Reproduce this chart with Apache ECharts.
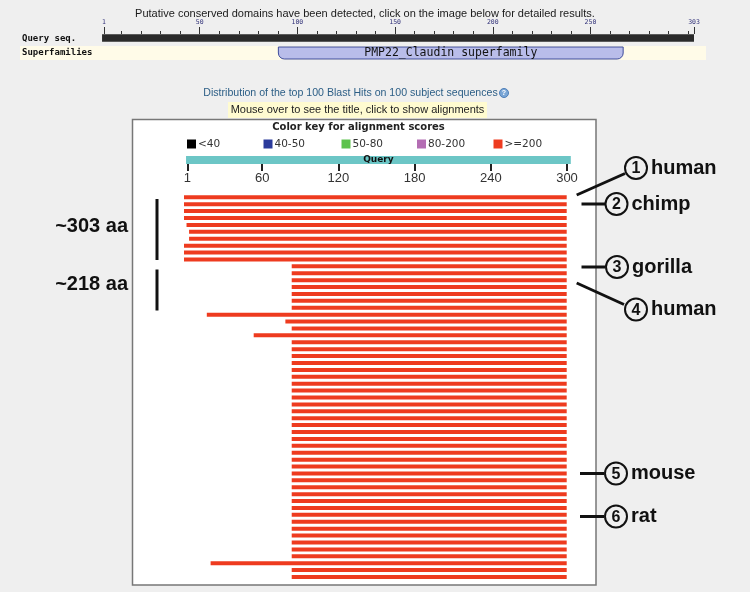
<!DOCTYPE html>
<html><head><meta charset="utf-8">
<script src="https://cdn.jsdelivr.net/npm/echarts@6/dist/echarts.min.js"></script>
<style>html,body{margin:0;padding:0;background:#efefef}#c{width:750px;height:592px}</style>
</head><body><div id="c"></div>
<script>
// ---- data ----
const queryLength = 303;
const rulerLabels = [1, 50, 100, 150, 200, 250, 303];
const rulerMinorTicks = [1, 10, 20, 30, 40, 50, 60, 70, 80, 90, 100, 110, 120, 130, 140, 150, 160, 170, 180, 190, 200, 210, 220, 230, 240, 250, 260, 270, 280, 290, 300, 303];
const domainName = 'PMP22_Claudin superfamily';
const domainStart = 90;
const domainEnd = 267;
const queryTicks = [1, 60, 120, 180, 240, 300];
const keyLabels = ['<40', '40-50', '50-80', '80-200', '>=200'];
const keyColors = ['#000000', '#2b3a9b', '#5cc24c', '#b36db3', '#ee3b1f'];
const hitStarts = [1, 1, 1, 1, 3, 5, 5, 1, 1, 1,
  86, 86, 86, 86, 86, 86, 86,
  19, 81, 86, 56,
  86, 86, 86, 86, 86, 86, 86, 86, 86, 86, 86, 86, 86, 86, 86, 86,
  86, 86, 86, 86, 86, 86, 86, 86, 86, 86, 86, 86, 86, 86, 86, 86,
  22, 86, 86];
const hitEnds = [303, 303, 303, 303, 303, 303, 303, 303, 303, 303,
  303, 303, 303, 303, 303, 303, 303,
  303, 303, 303, 303,
  303, 303, 303, 303, 303, 303, 303, 303, 303, 303, 303, 303, 303, 303, 303, 303,
  303, 303, 303, 303, 303, 303, 303, 303, 303, 303, 303, 303, 303, 303, 303, 303,
  303, 303, 303];
const hitNames = hitStarts.map((_, i) => 'Hit ' + (i + 1));
const species = ['human', 'chimp', 'gorilla', 'human', 'mouse', 'rat'];
const groupLabels = ['~303 aa', '~218 aa'];

// ---- chart ----
const chart = echarts.init(document.getElementById('c'));
const SANS = 'Liberation Sans, Arial, sans-serif';
const VERD = 'DejaVu Sans, Verdana, sans-serif';
const MONO = 'DejaVu Sans Mono, monospace';

const graphics = [];
// header
graphics.push({type:'text', x:365, y:14, z:10, style:{text:'Putative conserved domains have been detected, click on the image below for detailed results.', font:'11px '+SANS, fill:'#1a1a1a', align:'center', verticalAlign:'middle'}});
// superfamily strip
graphics.push({type:'rect', z:-1, shape:{x:20, y:46, width:686, height:14}, style:{fill:'#fffbe8'}});
graphics.push({type:'text', x:22, y:38.5, z:10, style:{text:'Query seq.', font:'bold 9px '+MONO, fill:'#111', verticalAlign:'middle'}});
graphics.push({type:'text', x:22, y:53, z:10, style:{text:'Superfamilies', font:'bold 9px '+MONO, fill:'#111', verticalAlign:'middle'}});
// title
graphics.push({type:'text', x:350.5, y:93, z:10, style:{text:'Distribution of the top 100 Blast Hits on 100 subject sequences', font:'10.6px '+SANS, fill:'#2c5e86', align:'center', verticalAlign:'middle'}});
graphics.push({type:'circle', z:10, shape:{cx:504, cy:93, r:4.5}, style:{fill:'#7aa6d6', stroke:'#4f7fb8', lineWidth:1}});
graphics.push({type:'text', x:504, y:93, z:11, style:{text:'?', font:'bold 7px '+SANS, fill:'#fff', align:'center', verticalAlign:'middle'}});
// yellow hint box
graphics.push({type:'rect', z:1, shape:{x:228, y:102, width:259, height:16}, style:{fill:'#fffbd0'}});
graphics.push({type:'text', x:357.5, y:110, z:10, style:{text:'Mouse over to see the title, click to show alignments', font:'11px '+SANS, fill:'#222', align:'center', verticalAlign:'middle'}});
// white box
graphics.push({type:'rect', z:0, shape:{x:132.5, y:119.5, width:463.5, height:465.5}, style:{fill:'#ffffff', stroke:'#777', lineWidth:1.5}});
graphics.push({type:'text', x:358.5, y:127.5, z:10, style:{text:'Color key for alignment scores', font:'bold 10px '+VERD, fill:'#222', align:'center', verticalAlign:'middle'}});
const keyX = [187, 263.5, 341.5, 417, 493.5];
keyLabels.forEach((t, i) => {
  graphics.push({type:'rect', z:10, shape:{x:keyX[i], y:139.5, width:9, height:9}, style:{fill:keyColors[i]}});
  graphics.push({type:'text', x:keyX[i] + 11, y:144, z:10, style:{text:t, font:'10.5px '+VERD, fill:'#333', verticalAlign:'middle'}});
});
// left annotations
graphics.push({type:'text', x:128, y:226, z:10, style:{text:groupLabels[0], font:'bold 20px '+SANS, fill:'#111', align:'right', verticalAlign:'middle'}});
graphics.push({type:'text', x:128, y:284.5, z:10, style:{text:groupLabels[1], font:'bold 20px '+SANS, fill:'#111', align:'right', verticalAlign:'middle'}});
graphics.push({type:'rect', z:10, shape:{x:155.5, y:199, width:3, height:61}, style:{fill:'#111'}});
graphics.push({type:'rect', z:10, shape:{x:155.5, y:269.5, width:3, height:41}, style:{fill:'#111'}});
// right annotations
const ann = [
  {cx:636, cy:168, line:[576.7,195,625,173.5]},
  {cx:616.5, cy:204, line:[581.5,204,605,204]},
  {cx:617, cy:267, line:[581.5,267,605,267]},
  {cx:636, cy:309.5, line:[576.7,283,624,304.5]},
  {cx:616, cy:473.5, line:[580,473.5,604,473.5]},
  {cx:616, cy:516.5, line:[580,516.5,604,516.5]}
];
ann.forEach((a, i) => {
  graphics.push({type:'line', z:10, shape:{x1:a.line[0], y1:a.line[1], x2:a.line[2], y2:a.line[3]}, style:{stroke:'#111', lineWidth:3}});
  graphics.push({type:'circle', z:11, shape:{cx:a.cx, cy:a.cy, r:11}, style:{fill:'#efefef', stroke:'#111', lineWidth:2}});
  graphics.push({type:'text', x:a.cx, y:a.cy + 1, z:12, style:{text:String(i + 1), font:'bold 16px '+SANS, fill:'#111', align:'center', verticalAlign:'middle'}});
  graphics.push({type:'text', x:a.cx + 15, y:a.cy, z:12, style:{text:species[i], font:'bold 20px '+SANS, fill:'#111', verticalAlign:'middle'}});
});

const hidden = {show:false};
const option = {
  animation: false,
  backgroundColor: '#efefef',
  graphic: graphics,
  grid: [
    {left:104, width:590, top:34, height:8},
    {left:104, width:590, top:46.5, height:13},
    {left:187.3, width:379.7, top:156, height:8},
    {left:184, width:382.7, top:193.85, height:386.6}
  ],
  xAxis: [
    {gridIndex:0, type:'value', min:1, max:303, position:'top', axisLine:hidden, splitLine:hidden,
      axisTick:{show:true, length:3, customValues:rulerMinorTicks, lineStyle:{color:'#333', width:1}},
      axisLabel:{show:false}},
    {gridIndex:0, type:'value', min:1, max:303, position:'top', axisLine:hidden, splitLine:hidden,
      axisTick:{show:true, length:7, customValues:rulerLabels, lineStyle:{color:'#333', width:1}},
      axisLabel:{show:true, customValues:rulerLabels, fontSize:6.5, fontFamily:MONO, color:'#33337a', margin:8}},
    {gridIndex:1, type:'value', min:1, max:303, show:false},
    {gridIndex:2, type:'value', min:1, max:300, position:'bottom', axisLine:hidden, splitLine:hidden,
      axisTick:{show:true, length:7, customValues:queryTicks, lineStyle:{color:'#222', width:2}},
      axisLabel:{show:true, customValues:queryTicks, fontSize:13, fontFamily:SANS, color:'#333', margin:7.5}},
    {gridIndex:3, type:'value', min:1, max:303, show:false}
  ],
  yAxis: [
    {gridIndex:0, type:'category', data:['Query seq.'], show:false},
    {gridIndex:1, type:'category', data:['Superfamilies'], show:false},
    {gridIndex:2, type:'category', data:['Query'], show:false},
    {gridIndex:3, type:'category', data:hitNames, inverse:true, show:false}
  ],
  series: [
    {type:'bar', xAxisIndex:0, yAxisIndex:0, data:[queryLength], barWidth:7.5, clip:false, itemStyle:{color:'#2a2a2a'}, silent:true},
    {type:'bar', xAxisIndex:2, yAxisIndex:1, stack:'dom', data:[domainStart], barWidth:13, itemStyle:{color:'rgba(0,0,0,0)'}, silent:true},
    {type:'bar', xAxisIndex:2, yAxisIndex:1, stack:'dom', data:[domainEnd - domainStart], barWidth:13,
      itemStyle:{color:'#b9bdea', borderColor:'#3f4c9c', borderWidth:1, borderRadius:[0,0,6,6]},
      label:{show:true, position:'inside', formatter:domainName, fontFamily:MONO, fontSize:11.5, color:'#111'}, silent:true},
    {type:'bar', xAxisIndex:3, yAxisIndex:2, data:[queryLength], barWidth:8, clip:false, itemStyle:{color:'#6cc6c6'},
      label:{show:true, position:'inside', formatter:'Query', fontFamily:VERD, fontWeight:'bold', fontSize:9, color:'#111'}, silent:true},
    {type:'bar', xAxisIndex:4, yAxisIndex:3, stack:'hit', data:hitStarts, barWidth:4, itemStyle:{color:'rgba(0,0,0,0)'}, silent:true},
    {type:'bar', xAxisIndex:4, yAxisIndex:3, stack:'hit', data:hitEnds.map((e, i) => e - hitStarts[i]), barWidth:4, itemStyle:{color:keyColors[4]}, silent:true}
  ]
};
chart.setOption(option);
</script></body></html>
